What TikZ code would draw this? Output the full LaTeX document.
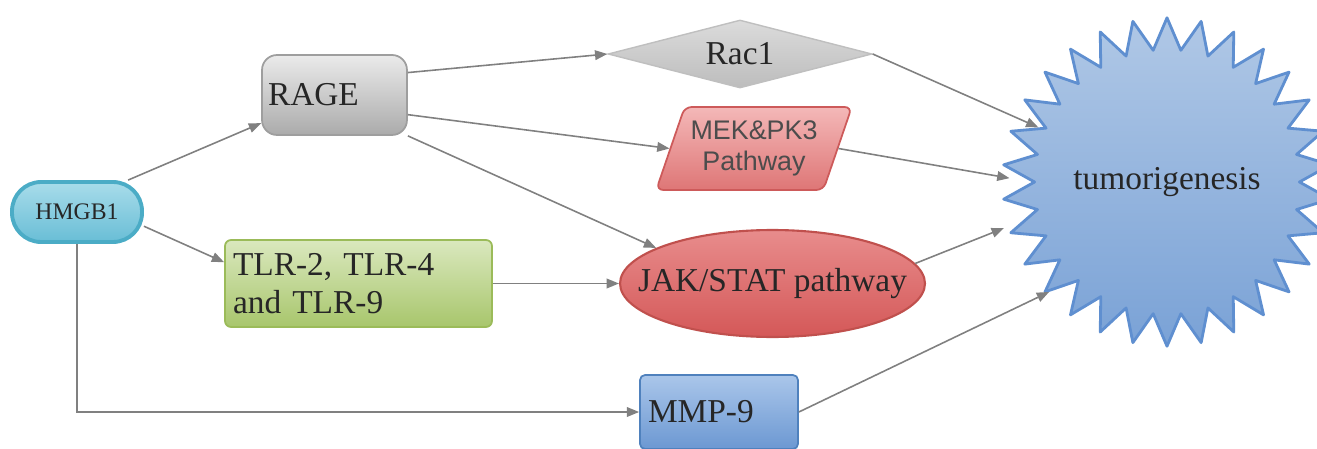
\documentclass[tikz,border=0pt]{standalone}
\usepackage{fontspec}
\setmainfont{Liberation Serif}
\newfontfamily\arialfont{Liberation Sans}
\usepackage{tikz}
\usetikzlibrary{arrows,arrows.meta,shapes}

\definecolor{connGray}{HTML}{808080}
\tikzstyle{conn}=[draw=connGray, line width=0.9pt]
\tikzstyle{bigtext}=[font=\fontsize{19}{21.5}\selectfont, text=black!85]
\tikzstyle{hmgbbox}=[rectangle, rounded corners=0.58cm, minimum width=2.6cm, minimum height=1.2cm,
  top color={rgb,255:red,168;green,220;blue,234}, bottom color={rgb,255:red,105;green,190;blue,214}, draw={rgb,255:red,75;green,172;blue,198},
  line width=2.2pt, font=\fontsize{13.5}{15}\selectfont, text=black!85]
\tikzstyle{ragebox}=[rectangle, rounded corners=0.3cm, minimum width=2.9cm, minimum height=1.6cm,
  text width=2.66cm, align=left, inner xsep=0.12cm, top color=black!8, bottom color=black!33,
  draw=black!38, line width=1pt, bigtext]
\tikzstyle{tlrbox}=[rectangle, rounded corners=0.12cm, minimum width=5.34cm, minimum height=1.74cm,
  text width=5.02cm, align=left, inner xsep=0.16cm, top color={rgb,255:red,218;green,232;blue,190},
  bottom color={rgb,255:red,168;green,198;blue,108}, draw={rgb,255:red,155;green,187;blue,89}, line width=1pt, bigtext]
\tikzstyle{racshape}=[diamond, aspect=3.9, minimum width=5.28cm, minimum height=1.36cm, inner sep=0pt,
  top color=black!14, bottom color=black!26, draw=black!25, line width=0.8pt, bigtext]
\tikzstyle{mekshape}=[trapezium, trapezium left angle=67, trapezium right angle=113, trapezium stretches=true,
  minimum width=3.4cm, minimum height=1.66cm, rounded corners=4pt, align=center,
  top color={rgb,255:red,244;green,184;blue,184}, bottom color={rgb,255:red,222;green,118;blue,118},
  draw={rgb,255:red,205;green,90;blue,90}, line width=1pt, font=\arialfont\fontsize{15.3}{17.6}\selectfont, text=black!70]
\tikzstyle{jakshape}=[ellipse, minimum width=6.1cm, minimum height=2.14cm, inner sep=0pt,
  top color={rgb,255:red,232;green,140;blue,140}, bottom color={rgb,255:red,212;green,88;blue,88},
  draw={rgb,255:red,192;green,80;blue,77}, line width=1.2pt, bigtext]
\tikzstyle{mmpbox}=[rectangle, rounded corners=0.1cm, minimum width=3.16cm, minimum height=1.48cm,
  text width=2.84cm, align=left, inner xsep=0.16cm, top color={rgb,255:red,170;green,198;blue,234},
  bottom color={rgb,255:red,108;green,152;blue,210}, draw={rgb,255:red,79;green,129;blue,189}, line width=1pt, bigtext]
\tikzstyle{tumorstar}=[star, star points=30, star point ratio=1.24, minimum size=6.2cm, inner sep=0pt,
  top color={rgb,255:red,176;green,200;blue,230}, bottom color={rgb,255:red,122;green,162;blue,214},
  draw={rgb,255:red,95;green,143;blue,208}, line width=1.6pt, line join=round, bigtext]

\begin{document}
\begin{tikzpicture}[x=0.02cm, y=-0.02cm, >={Triangle[length=7pt,width=5.5pt]}]
\useasboundingbox (0,0) rectangle (1317,449);

\node [tumorstar] (tumor) at (1167,182) {tumorigenesis};
\node [hmgbbox] (hmgb) at (77,212) {HMGB1};
\node [ragebox] (rage) at (334.5,95) {RAGE};
\node [tlrbox] (tlr) at (358.5,283.5) {TLR-2, TLR-4\\and TLR-9};
\node [racshape] (rac) at (740,54) {Rac1};
\node [mekshape] (mek) at (754,148.5) {MEK\&PK3\\Pathway};
\node [jakshape] (jak) at (772.5,283.5) {\makebox[0pt]{JAK/STAT pathway}};
\node [mmpbox] (mmp) at (719,412) {MMP-9};

% from HMGB1
\draw [conn,->] (hmgb.32) -- (rage.201);
\draw [conn,->] (hmgb.-12) -- (tlr.171);
\draw [conn,->] (hmgb.south) |- (mmp.west);
% from RAGE
\draw [conn,->] (rage.17) -- (rac.west);
\draw [conn,->] (rage.-15) -- (mek.west);
\draw [conn,->] (rage.south east) -- (jak.163);
\draw [conn,->] (tlr.east) -- (jak.west);
% into tumorigenesis
\draw [conn,->] (rac.east) -- (tumor.157);
\draw [conn,->,shorten >=0.45cm] (mek.east) -- (tumor.180);
\draw [conn,->,shorten >=0.4cm] (jak.8) -- (tumor.195);
\draw [conn,->] (mmp.east) -- (tumor.223);
\end{tikzpicture}
\end{document}
